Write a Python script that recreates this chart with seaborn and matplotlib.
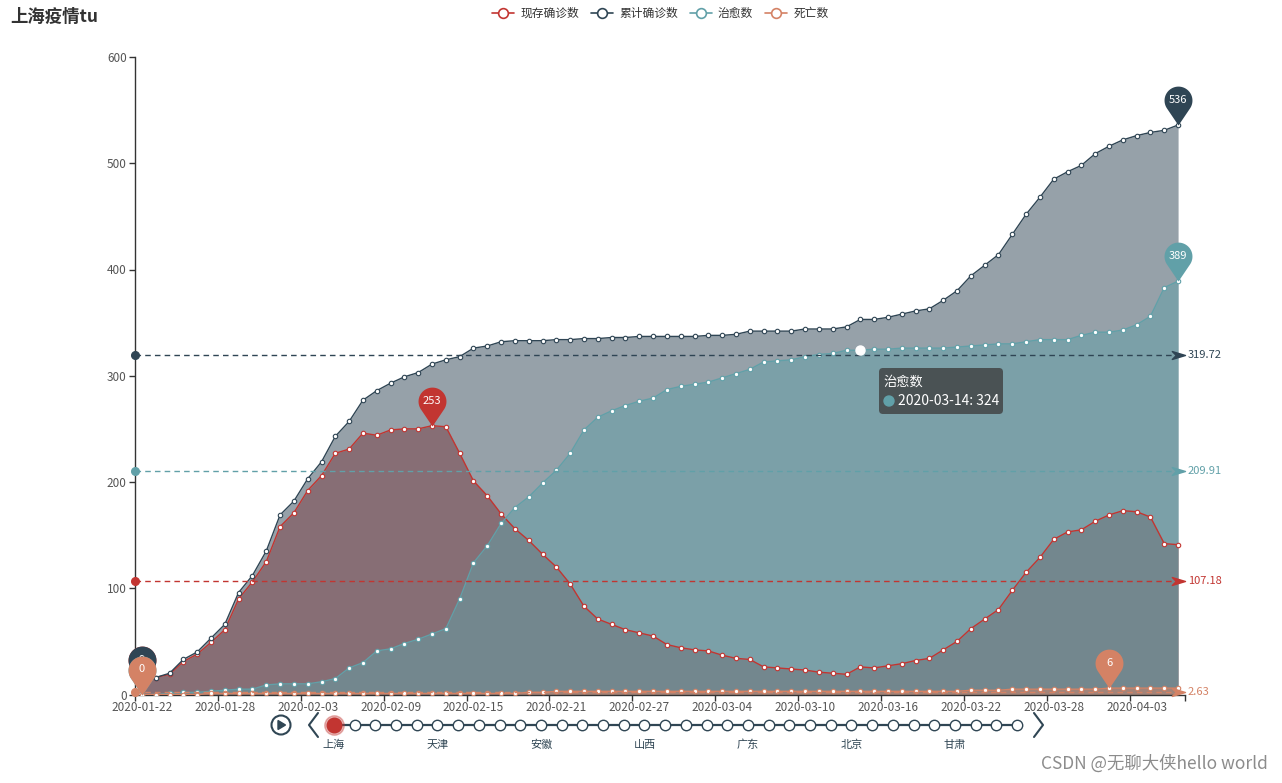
import numpy as np
import pandas as pd
import matplotlib
matplotlib.use('Agg')
import matplotlib.pyplot as plt
from matplotlib.path import Path
from matplotlib.lines import Line2D
from matplotlib.patches import Circle, Polygon, FancyBboxPatch
import seaborn as sns

# ---- data ----
dates = pd.date_range('2020-01-22', periods=76).strftime('%Y-%m-%d')

confirmed = [9, 16, 20, 33, 40, 53, 66, 96, 112, 135,
             169, 182, 203, 219, 243, 257, 277, 286, 293, 299,
             303, 311, 315, 318, 326, 328, 332, 333, 333, 333,
             334, 334, 335, 335, 336, 336, 337, 337, 337, 337,
             337, 338, 338, 339, 342, 342, 342, 342, 344, 344,
             344, 346, 353, 353, 355, 358, 361, 363, 371, 380,
             394, 404, 414, 433, 452, 468, 485, 492, 498, 509,
             516, 522, 526, 529, 531, 536]

current = [9, 16, 19, 31, 38, 49, 61, 90, 106, 125,
           158, 171, 192, 206, 227, 231, 246, 244, 249, 250,
           250, 253, 252, 227, 201, 187, 170, 156, 145, 132,
           120, 104, 83, 71, 66, 61, 58, 55, 47, 44,
           42, 41, 37, 34, 33, 26, 25, 24, 23, 21,
           20, 19, 26, 25, 27, 29, 32, 34, 42, 50,
           62, 71, 80, 98, 115, 129, 146, 153, 155, 163,
           169, 173, 172, 167, 142, 141]

cured = [0, 0, 1, 2, 2, 3, 4, 5, 5, 9,
         10, 10, 10, 12, 15, 25, 30, 41, 43, 48,
         52, 57, 62, 90, 124, 140, 161, 176, 186, 199,
         211, 227, 249, 261, 267, 272, 276, 279, 287, 290,
         292, 294, 298, 302, 306, 313, 314, 315, 318, 320,
         321, 324, 324, 325, 325, 326, 326, 326, 326, 327,
         328, 329, 330, 330, 332, 334, 334, 334, 338, 341,
         341, 343, 348, 356, 383, 389]

dead = [0, 0, 0, 0, 0, 1, 1, 1, 1, 1,
        1, 1, 1, 1, 1, 1, 1, 1, 1, 1,
        1, 1, 1, 1, 1, 1, 1, 1, 2, 2,
        3, 3, 3, 3, 3, 3, 3, 3, 3, 3,
        3, 3, 3, 3, 3, 3, 3, 3, 3, 3,
        3, 3, 3, 3, 3, 3, 3, 3, 3, 3,
        4, 4, 4, 5, 5, 5, 5, 5, 5, 5,
        6, 6, 6, 6, 6, 6]

series_names = ['现存确诊数', '累计确诊数', '治愈数', '死亡数']
series_values = [current, confirmed, cured, dead]
colors = ['#c23531', '#2f4554', '#61a0a8', '#d48265']

timeline_labels = ['上海', '天津', '安徽', '山西', '广东', '北京', '甘肃']
timeline_nodes = 34
tooltip_idx = 52  # 2020-03-14 on 治愈数

# ---- style ----
sns.set_theme(style='white')
plt.rcParams['font.family'] = ['Noto Sans CJK SC', 'DejaVu Sans']
plt.rcParams['axes.unicode_minus'] = False

df = pd.DataFrame({'idx': np.arange(len(dates)), 'date': dates})
for name, vals in zip(series_names, series_values):
    df[name] = vals

W, H = 1282, 783
fig = plt.figure(figsize=(W / 100, H / 100), dpi=100)
ax = fig.add_axes([135 / W, 1 - 694.5 / H, 1050 / W, (694.5 - 57) / H])


def pin_marker(r=14, c=25, n=48):
    # echarts style "pin": circle on top of a point, tip at the origin
    beta = np.arccos(r / c)
    t = np.linspace(beta - np.pi / 2, 1.5 * np.pi - beta, n)
    verts = [(0, 0)] + [(r * np.cos(a), c + r * np.sin(a)) for a in t] + [(0, 0)]
    codes = [Path.MOVETO] + [Path.LINETO] * n + [Path.CLOSEPOLY]
    return Path(verts, codes)


def arrow_marker():
    verts = [(0, 0), (-2, 0.6), (-1.4, 0), (-2, -0.6), (0, 0)]
    codes = [Path.MOVETO, Path.LINETO, Path.LINETO, Path.LINETO, Path.CLOSEPOLY]
    return Path(verts, codes)


PIN = pin_marker()
ARROW = arrow_marker()

# areas first, then lines on top
for i, (name, c) in enumerate(zip(series_names, colors)):
    ax.fill_between(df['idx'], 0, df[name], color=c, alpha=0.5, lw=0, zorder=1 + i * 0.1)

for i, (name, c) in enumerate(zip(series_names, colors)):
    sns.lineplot(data=df, x='idx', y=name, ax=ax, color=c, lw=1, marker='o',
                 markersize=3.2, markerfacecolor='white', markeredgecolor=c,
                 markeredgewidth=0.8, zorder=3 + i * 0.1)

# mean mark lines
for i, (name, c) in enumerate(zip(series_names, colors)):
    m = df[name].mean()
    ax.plot([-0.5, 75.5], [m, m], ls=(0, (4, 3)), color=c, lw=1, zorder=6)
    ax.plot(-0.5, m, 'o', ms=5.5, color=c, clip_on=False, zorder=7)
    ax.plot(75.5, m, marker=ARROW, ms=19, color=c, clip_on=False, zorder=7)
    ax.annotate(f'{m:.2f}', xy=(75.5, m), xytext=(2, 0), textcoords='offset points',
                ha='left', va='center', fontsize=8, color=c, annotation_clip=False)

# max / min pins
for i, (name, c) in enumerate(zip(series_names, colors)):
    vals = df[name].values
    for j in [int(np.argmax(vals)), int(np.argmin(vals))]:
        ax.plot(j, vals[j], marker=PIN, ms=56, color=c, mec='none',
                clip_on=False, zorder=10 + i)
        ax.annotate(str(vals[j]), xy=(j, vals[j]), xytext=(0, 25),
                    textcoords='offset pixels', ha='center', va='center',
                    fontsize=8, color='white', zorder=10.5 + i,
                    annotation_clip=False)

# hovered point
ax.plot(tooltip_idx, cured[tooltip_idx], 'o', ms=6.5, mfc='white', mec='white', zorder=9)

# axes
ax.set_xlim(-0.5, 75.5)
ax.set_ylim(0, 600)
ax.set_yticks(range(0, 601, 100))
ax.set_xticks(range(0, len(dates), 6))
ax.set_xticklabels(dates[::6])
ax.set_xticks(list(np.arange(-0.5, 76, 6)) + [75.5], minor=True)
ax.set_xlabel('')
ax.set_ylabel('')
for s in ['top', 'right']:
    ax.spines[s].set_visible(False)
for s in ['left', 'bottom']:
    ax.spines[s].set_color('#333333')
    ax.spines[s].set_linewidth(1)
ax.tick_params(axis='y', length=4, width=1, color='#333333', pad=2,
               labelsize=8.5, labelcolor='#555555', left=True)
ax.tick_params(axis='x', which='major', length=0, pad=5, labelsize=8.5,
               labelcolor='#555555')
ax.tick_params(axis='x', which='minor', length=4, width=1, color='#333333', bottom=True)
ax.set_facecolor('none')

# title, legend, watermark
fig.text(10 / W, 1 - 17 / H, '上海疫情tu', fontsize=12.5, weight='bold',
         color='#333333', va='center', ha='left')
handles = [Line2D([], [], color=c, lw=1.2, marker='o', ms=7, mfc='white', mec=c, mew=1.2)
           for c in colors]
fig.legend(handles, series_names, loc='upper center', bbox_to_anchor=(0.515, 1.005),
           ncol=4, frameon=False, handlelength=1.9, handletextpad=0.5,
           columnspacing=1.0, fontsize=8.5, labelcolor='#333333')
fig.text(1268 / W, 1 - 764 / H, 'CSDN @无聊大侠hello world', fontsize=12.5,
         color='#8c8c8c', ha='right', va='center')

# overlay in pixel space: timeline + tooltip
ov = fig.add_axes([0, 0, 1, 1])
ov.set_xlim(0, W)
ov.set_ylim(H, 0)
ov.axis('off')
ov.patch.set_alpha(0)

slate = '#304654'
node_x = np.linspace(334, 1017, timeline_nodes)
ov.plot(node_x, [725] * timeline_nodes, color=slate, lw=1.6, marker='o', ms=7.5,
        mfc='white', mec=slate, mew=1)
ov.plot(node_x[0], 725, 'o', ms=14, color='#c23531', alpha=0.35)
ov.plot(node_x[0], 725, 'o', ms=10.5, color='#c23531')
for k, lab in enumerate(timeline_labels):
    ov.text(node_x[k * 5], 745, lab, ha='center', va='center', fontsize=8, color=slate)
ov.add_patch(Circle((281, 725), 9.5, fill=False, ec=slate, lw=1.5))
ov.add_patch(Polygon([(278, 720.5), (278, 729.5), (285.5, 725)], closed=True, color=slate))
ov.plot([318, 309, 318], [713, 725, 737], color=slate, lw=1.5)
ov.plot([1034, 1043, 1034], [713, 725, 737], color=slate, lw=1.5)

ov.add_patch(FancyBboxPatch((879, 368), 124, 46, boxstyle='round,pad=0,rounding_size=4',
                            fc='#4a5254', ec='none', zorder=20))
ov.text(883, 382, '治愈数', color='white', fontsize=9.5, va='center', ha='left', zorder=21)
ov.add_patch(Circle((889, 401), 5, color=colors[2], zorder=21))
ov.text(898, 401, f'{dates[tooltip_idx]}: {cured[tooltip_idx]}', color='white',
        fontsize=10, va='center', ha='left', zorder=21)

fig.savefig('out.png', dpi=100)
